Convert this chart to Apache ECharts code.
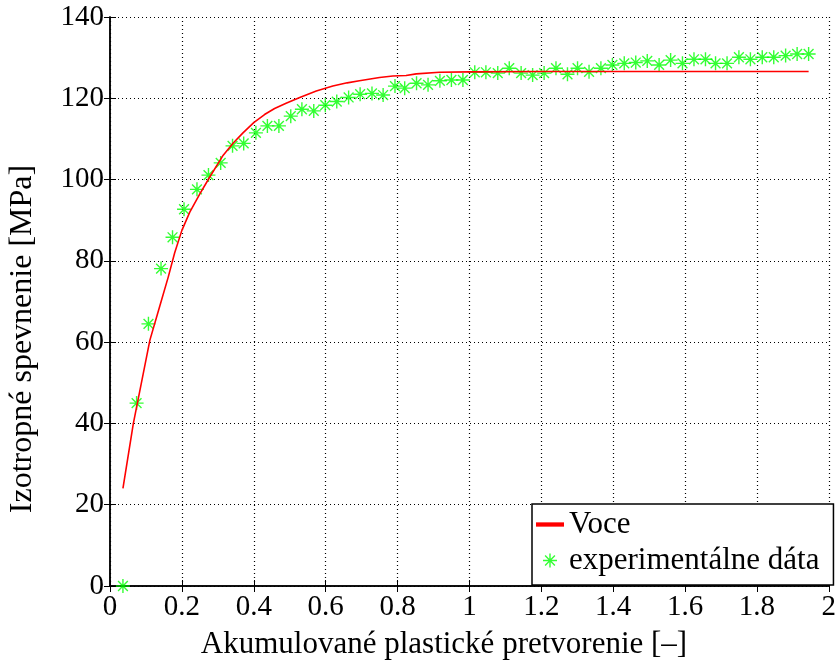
<!DOCTYPE html>
<html><head><meta charset="utf-8">
<script src="https://cdn.jsdelivr.net/npm/echarts@6/dist/echarts.min.js"></script>
<style>html,body{margin:0;padding:0;background:#fff}#c{width:839px;height:662px}</style>
</head><body><div id="c"></div>
<script>
// Experimental data
const expX = [0.036, 0.074, 0.107, 0.142, 0.174, 0.206, 0.242, 0.274, 0.308, 0.341, 0.372, 0.406, 0.438, 0.47, 0.503, 0.534, 0.567, 0.599, 0.631, 0.664, 0.696, 0.729, 0.76, 0.793, 0.82, 0.853, 0.885, 0.918, 0.95, 0.982, 1.015, 1.046, 1.079, 1.111, 1.144, 1.176, 1.208, 1.241, 1.273, 1.301, 1.333, 1.366, 1.398, 1.431, 1.463, 1.495, 1.528, 1.56, 1.593, 1.625, 1.657, 1.685, 1.717, 1.75, 1.782, 1.815, 1.847, 1.88, 1.912, 1.944];
const expY = [0, 45, 64.5, 78.1, 85.8, 92.7, 97.6, 101.1, 104.1, 108.3, 108.9, 111.5, 113.2, 113.2, 115.6, 117.3, 116.9, 118.3, 119.2, 120.2, 121, 121.2, 120.8, 123, 122.5, 123.7, 123.3, 124.3, 124.5, 124.5, 126.4, 126.4, 126.2, 127.4, 126.2, 125.7, 126.2, 127.4, 125.9, 127.4, 126.5, 127.4, 128.2, 128.6, 128.8, 129.2, 128.2, 129.4, 128.6, 129.6, 129.6, 128.6, 128.6, 130.1, 129.6, 130.1, 130.1, 130.5, 130.9, 130.9];
// Voce fit curve
const voceX = [0.036, 0.065, 0.111, 0.139, 0.162, 0.18, 0.2, 0.222, 0.25, 0.278, 0.315, 0.343, 0.37, 0.4, 0.43, 0.458, 0.49, 0.528, 0.574, 0.62, 0.66, 0.694, 0.75, 0.787, 0.824, 0.852, 0.917, 1.0, 1.2, 1.944];
const voceY = [24, 40, 60.5, 69, 76, 82, 87.5, 92, 96.5, 100.7, 106, 109, 111.5, 114, 116, 117.5, 118.8, 120.2, 121.8, 123, 123.8, 124.3, 125.1, 125.5, 125.6, 126, 126.4, 126.5, 126.6, 126.6];
const xTicks = {min: 0, max: 2, interval: 0.2};
const yTicks = {min: 0, max: 140, interval: 20};
const seriesNames = ['Voce', 'experimentálne dáta'];
const xTitle = 'Akumulované plastické pretvorenie [–]';
const yTitle = 'Izotropné spevnenie [MPa]';

const star = 'path://M0,9 L20,9 L20,11 L0,11 Z M9,0 L11,0 L11,20 L9,20 Z M2.3,3.7 L3.7,2.3 L17.7,16.3 L16.3,17.7 Z M16.3,2.3 L17.7,3.7 L3.7,17.7 L2.3,16.3 Z';
const FONT = 'Liberation Serif';
const chart = echarts.init(document.getElementById('c'), null, {renderer: 'canvas'});
const axisLine = {show: true, lineStyle: {color: '#000', width: 1.5}};
const tick = {show: true, inside: true, length: 6, lineStyle: {color: '#000', width: 1}};
const grid = {show: true, lineStyle: {color: '#000', type: [1, 3], width: 1.2}};
chart.setOption({
  animation: false,
  backgroundColor: '#fff',
  grid: {left: 110, right: 9, top: 17, bottom: 76, containLabel: false},
  graphic: [
    {type: 'text', x: 444, y: 645, style: {text: xTitle, font: '31px "Liberation Serif"', fill: '#000', align: 'center', verticalAlign: 'middle'}},
    {type: 'text', x: 23, y: 339, rotation: Math.PI / 2, style: {text: yTitle, font: '32px "Liberation Serif"', fill: '#000', align: 'center', verticalAlign: 'middle'}}
  ],
  legend: {
    left: 532, top: 504, orient: 'vertical',
    backgroundColor: '#fff', borderColor: '#000', borderWidth: 1.5, borderRadius: 0,
    padding: [5, 14, 9, 4], itemGap: 5, itemWidth: 28, itemHeight: 14,
    textStyle: {fontFamily: FONT, fontSize: 31, color: '#000'},
    data: [
      {name: seriesNames[0], icon: 'path://M0,0 L26,0 L26,4 L0,4 Z', itemStyle: {color: '#ff0000'}},
      {name: seriesNames[1], icon: star}
    ]
  },
  xAxis: [{
    type: 'value', min: xTicks.min, max: xTicks.max, interval: xTicks.interval,
    axisLine, axisTick: tick,
    axisLabel: {fontFamily: FONT, fontSize: 29, color: '#000', margin: 7},
    splitLine: grid
  }, {
    type: 'value', position: 'top', min: xTicks.min, max: xTicks.max, interval: xTicks.interval,
    axisLine, axisTick: tick, axisLabel: {show: false}, splitLine: {show: false}
  }],
  yAxis: [{
    type: 'value', min: yTicks.min, max: yTicks.max, interval: yTicks.interval,
    axisLine, axisTick: tick,
    axisLabel: {fontFamily: FONT, fontSize: 29, color: '#000', margin: 6},
    splitLine: grid
  }, {
    type: 'value', position: 'right', min: yTicks.min, max: yTicks.max, interval: yTicks.interval,
    axisLine, axisTick: tick, axisLabel: {show: false}, splitLine: {show: false}
  }],
  series: [{
    name: seriesNames[0], type: 'line', showSymbol: false, symbol: 'none',
    lineStyle: {color: '#ff0000', width: 1.6}, itemStyle: {color: '#ff0000'},
    data: voceX.map((x, i) => [x, voceY[i]]), z: 3
  }, {
    name: seriesNames[1], type: 'scatter', symbol: star, symbolSize: 14,
    itemStyle: {color: '#00ff00'},
    data: expX.map((x, i) => [x, expY[i]]), z: 2
  }]
});
</script></body></html>
